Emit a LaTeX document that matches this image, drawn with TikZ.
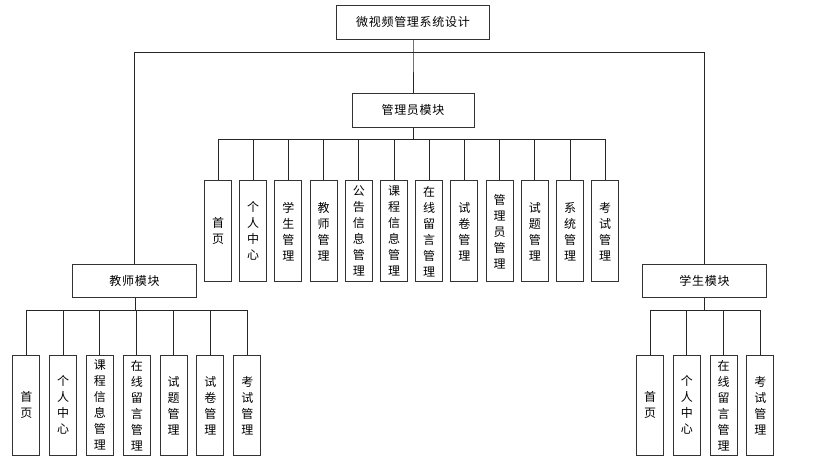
\documentclass[tikz,border=0pt]{standalone}
\usepackage{fontspec}
\newfontfamily\cjkh{Noto Sans CJK SC}[LetterSpace=6]
\newfontfamily\cjkv{Noto Sans CJK SC}
\tikzset{
  hbox/.style={draw=black!80, line width=1pt, inner sep=0pt, minimum height=34pt,
    font=\cjkh\fontsize{12}{14}\selectfont},
  vbox/.style={draw=black!80, line width=1pt, inner sep=0pt, minimum width=27pt,
    minimum height=100pt, align=center, font=\cjkv\fontsize{12}{16}\selectfont},
  link/.style={draw=black!85, line width=1pt}
}
\begin{document}
\begin{tikzpicture}[x=1pt,y=-1pt]
\useasboundingbox[fill=white] (0,0) rectangle (828,471);
% top levels
\node[hbox, minimum width=153pt] (root) at (413,22) {微视频管理系统设计};
\node[hbox, minimum width=122pt] (admin) at (413,110) {管理员模块};
\node[hbox, minimum width=124pt, minimum height=33pt] (teacher) at (134.5,281) {教师模块};
\node[hbox, minimum width=124pt, minimum height=33pt] (student) at (704.5,281) {学生模块};
\coordinate (rbus) at (413,52);
\coordinate (abus) at (413,139.5);
\coordinate (tbus) at (135,310);
\coordinate (sbus) at (704.5,310);
\draw[link] (root.south) -- (rbus) -- (admin.north);
\draw[link] (rbus) -| (teacher.north);
\draw[link] (rbus) -| (student.north);
\draw[link] (admin.south) -- (abus);
\draw[link] (teacher.south -| tbus) -- (tbus);
\draw[link] (student.south) -- (sbus);
% admin children
\foreach \t [count=\i from 0] in {首\\页, 个\\人\\中\\心, 学\\生\\管\\理, 教\\师\\管\\理,
  公\\告\\信\\息\\管\\理, 课\\程\\信\\息\\管\\理, 在\\线\\留\\言\\管\\理, 试\\卷\\管\\理,
  管\\理\\员\\管\\理, 试\\题\\管\\理, 系\\统\\管\\理, 考\\试\\管\\理}{
  \node[vbox, minimum height=100.7pt] (a\i) at ({218+35.2*\i},231.3) {\t};
  \draw[link] (abus) -| (a\i.north);
}
% teacher children
\foreach \t [count=\i from 0] in {首\\页, 个\\人\\中\\心, 课\\程\\信\\息\\管\\理,
  在\\线\\留\\言\\管\\理, 试\\题\\管\\理, 试\\卷\\管\\理, 考\\试\\管\\理}{
  \node[vbox] (t\i) at ({26.3+36.83*\i},405.3) {\t};
  \draw[link] (tbus) -| (t\i.north);
}
% student children
\foreach \t [count=\i from 0] in {首\\页, 个\\人\\中\\心, 在\\线\\留\\言\\管\\理, 考\\试\\管\\理}{
  \node[vbox] (s\i) at ({650+36.77*\i},405.3) {\t};
  \draw[link] (sbus) -| (s\i.north);
}
\end{tikzpicture}
\end{document}
